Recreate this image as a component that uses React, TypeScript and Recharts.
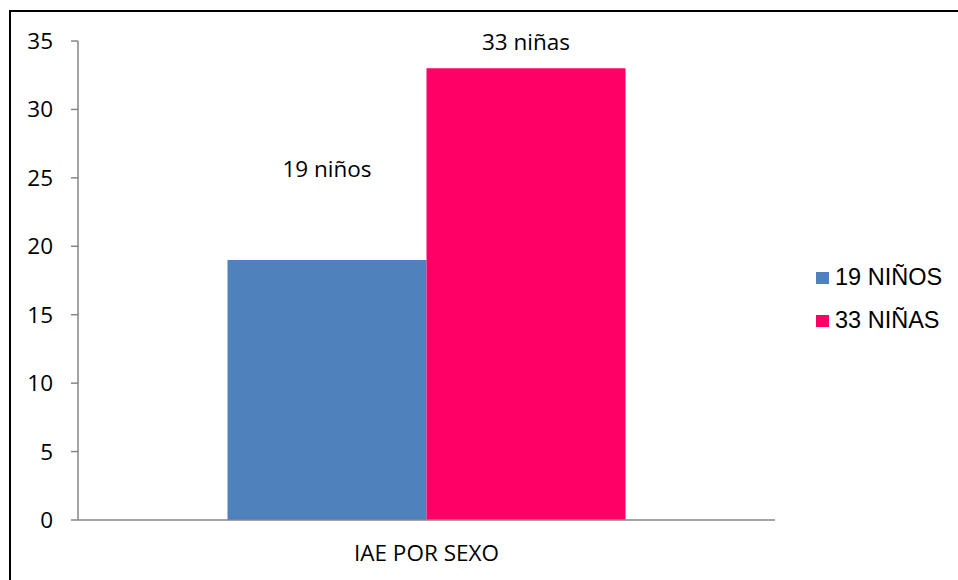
import React from 'react';
import { BarChart, Bar, XAxis, YAxis, Legend, LabelList } from 'recharts';

const categories = ['IAE POR SEXO'];
const ninosValues = [19];
const ninasValues = [33];
const seriesNames = ['19 NIÑOS', '33 NIÑAS'];
const barLabels = ['19 niños', '33 niñas'];
const yTicks = [0, 5, 10, 15, 20, 25, 30, 35];
const edgeTicks = [0, 1];

const data = categories.map((c, i) => ({ cat: c, ninos: ninosValues[i], ninas: ninasValues[i] }));

const COLORS = ['#4F81BD', '#FF0066'];
const AXIS = '#868686';
const FONT = '"Open Sans", sans-serif';

const LegendContent = () => (
  <div>
    {seriesNames.map((n, i) => (
      <div key={n} style={{ height: 43, display: 'flex', alignItems: 'center' }}>
        <span style={{ width: 13, height: 12, background: COLORS[i], marginRight: 6, display: 'inline-block' }} />
        <span style={{ fontFamily: '"Liberation Sans", Arial, sans-serif', fontSize: 23.5, color: '#000', lineHeight: 1 }}>{n}</span>
      </div>
    ))}
  </div>
);

export default function App() {
  return (
    <div style={{ position: 'absolute', left: 0, top: 0, width: 958, height: 580, overflow: 'hidden', background: '#fff' }}>
      <div style={{ position: 'absolute', left: 9, top: 10, width: 1000, height: 1000, borderLeft: '2px solid #000', borderTop: '2px solid #000' }} />
      <div style={{ position: 'absolute', left: 0, top: 0 }}>
        <BarChart width={958} height={580} data={data} margin={{ top: 41, right: 183, bottom: 0, left: 0 }} barCategoryGap="21.45%" barGap={0}>
          <XAxis xAxisId={0} type="number" domain={[0, 1]} ticks={edgeTicks} allowDataOverflow tick={false} axisLine={{ stroke: AXIS, strokeWidth: 1.5 }} tickLine={{ stroke: AXIS, strokeWidth: 1.5 }} tickSize={8} height={1} />
          <XAxis xAxisId="cat" dataKey="cat" type="category" height={59} axisLine={false} tickLine={false} tickSize={6} tickMargin={18} tick={{ fontFamily: FONT, fontSize: 22.5, fill: '#000' }} />
          <YAxis domain={[0, 35]} ticks={yTicks} interval={0} width={78} axisLine={{ stroke: AXIS, strokeWidth: 1.5 }} tickLine={{ stroke: AXIS, strokeWidth: 1.5 }} tickSize={7} tickMargin={18} tick={{ fontFamily: FONT, fontSize: 22.5, fill: '#000' }} />
          <Legend align="center" verticalAlign="middle" layout="horizontal" content={LegendContent} wrapperStyle={{ left: 816, top: 256, width: 142, height: 86 }} />
          <Bar xAxisId="cat" dataKey="ninos" name={seriesNames[0]} fill={COLORS[0]} isAnimationActive={false}>
            <LabelList dataKey="ninos" position="top" offset={83} formatter={() => barLabels[0]} fill="#000" fontFamily={FONT} fontSize={22.5} />
          </Bar>
          <Bar xAxisId="cat" dataKey="ninas" name={seriesNames[1]} fill={COLORS[1]} isAnimationActive={false}>
            <LabelList dataKey="ninas" position="top" offset={18} formatter={() => barLabels[1]} fill="#000" fontFamily={FONT} fontSize={22.5} />
          </Bar>
        </BarChart>
      </div>
    </div>
  );
}
